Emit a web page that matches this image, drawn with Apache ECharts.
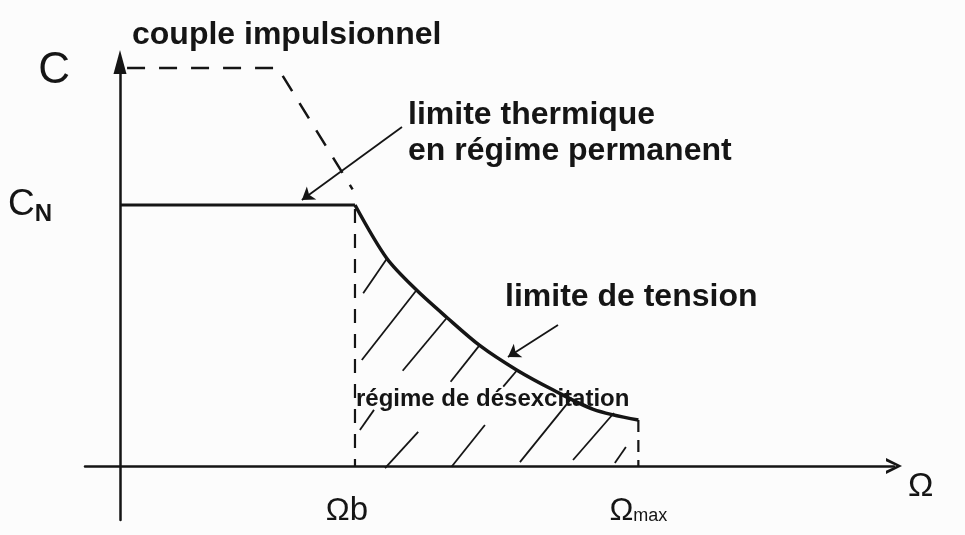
<!DOCTYPE html>
<html>
<head>
<meta charset="utf-8">
<script src="https://cdn.jsdelivr.net/npm/echarts@6/dist/echarts.min.js"></script>
<style>
html, body { margin: 0; padding: 0; background: #fcfcfc; }
#main { width: 965px; height: 535px; }
</style>
</head>
<body>
<div id="main"></div>
<script>
// unités : Ω / Ωb en abscisse, C / CN en ordonnée
var omegaB = 1, omegaMax = 2.206, cN = 1, cImp = 1.525;

// limite thermique en régime permanent
var thermData = [[0, cN], [omegaB, cN]];
// limite de tension
var tensionData = [[1.0, 1.0], [1.135, 0.796], [1.262, 0.674], [1.390, 0.570], [1.532, 0.461],
    [1.688, 0.368], [1.844, 0.291], [2.014, 0.217], [2.206, 0.176]];
// couple impulsionnel (pointillés)
var impulsData = [[0.03, cImp], [0.672, cImp], [0.99, 1.06]];
var dashB = [[omegaB, 0.985], [omegaB, 0]];
var dashMax = [[omegaMax, 0.176], [omegaMax, 0]];

// hachures de la zone de désexcitation
var hatchData = [
    [[1.035, 0.662], [1.137, 0.796]],
    [[1.029, 0.406], [1.265, 0.677]],
    [[1.203, 0.365], [1.393, 0.570]],
    [[1.407, 0.323], [1.528, 0.460]],
    [[1.631, 0.304], [1.688, 0.365]],
    [[1.702, 0.015], [1.923, 0.261]],
    [[1.928, 0.023], [2.102, 0.203]],
    [[2.106, 0.011], [2.153, 0.073]],
    [[1.128, -0.008], [1.269, 0.131]],
    [[1.411, -0.003], [1.553, 0.157]],
    [[1.021, 0.138], [1.081, 0.215]]
];
// flèches des annotations
var arrowData = [
    [[1.2, 1.299], [0.774, 1.019]],
    [[1.864, 0.540], [1.651, 0.418]]
];

var xTicks = [omegaB, omegaMax];
var xTickLabels = ['{om|Ω}{sb|b}{gap|}', '{om|Ω}{sm|max}'];
var yTicks = [cN, cImp];
var yTickLabels = ['{cn|C}{sub|N}{gap|}', '{c|C}'];

var ink = '#151515';
var hand = '"Liberation Sans", sans-serif';
var bold = 'bold 32px "Liberation Sans", Arial, sans-serif';

function pick(ticks, labels, v) {
    for (var i = 0; i < ticks.length; i++) {
        if (Math.abs(ticks[i] - v) < 1e-6) return labels[i];
    }
    return '';
}

var chart = echarts.init(document.getElementById('main'));
chart.setOption({
    backgroundColor: '#fcfcfc',
    animation: false,
    grid: { left: 85, right: 71, top: 62, bottom: 15, containLabel: false, outerBoundsMode: 'none' },
    xAxis: {
        type: 'value',
        min: -0.149,
        max: 3.294,
        name: 'Ω',
        nameLocation: 'end',
        nameGap: 14,
        nameTextStyle: { color: ink, fontSize: 34, fontFamily: hand, align: 'left', verticalAlign: 'top', padding: [4, 0, 0, 0] },
        splitLine: { show: false },
        axisTick: { show: false },
        axisLine: {
            onZero: true,
            lineStyle: { color: ink, width: 2.5 },
            symbol: ['none', 'path://M0,20 L10,0 L20,20 L16,20 L10,7 L4,20 Z'],
            symbolSize: [18, 16]
        },
        axisLabel: {
            customValues: xTicks,
            margin: -25,
            formatter: function (v) { return pick(xTicks, xTickLabels, v); },
            rich: {
                om: { fontSize: 32, fontFamily: hand, color: ink, lineHeight: 32 },
                sb: { fontSize: 33, fontFamily: hand, color: ink, lineHeight: 32 },
                sm: { fontSize: 18, fontFamily: hand, color: ink, lineHeight: 32, padding: [10, 0, 0, 0] },
                gap: { width: 16 }
            }
        }
    },
    yAxis: {
        type: 'value',
        min: -0.207,
        max: 1.548,
        splitLine: { show: false },
        axisTick: { show: false },
        axisLine: {
            onZero: true,
            lineStyle: { color: ink, width: 2.5 },
            symbol: ['none', 'triangle'],
            symbolSize: [13, 24]
        },
        axisLabel: {
            customValues: yTicks,
            margin: 15,
            formatter: function (v) { return pick(yTicks, yTickLabels, v); },
            rich: {
                c: { fontSize: 44, fontFamily: hand, color: ink, padding: [6, 0, 0, 0] },
                cn: { fontSize: 37, fontFamily: hand, color: ink },
                sub: { fontSize: 24, fontFamily: hand, color: ink, fontWeight: 'bold', padding: [18, 0, 0, 0] },
                gap: { width: 18 }
            }
        }
    },
    series: [
        {
            type: 'line', data: thermData, symbol: 'none',
            lineStyle: { color: ink, width: 3 }
        },
        {
            type: 'line', data: tensionData, symbol: 'none', smooth: 0.3,
            lineStyle: { color: ink, width: 3.5 }
        },
        {
            type: 'line', data: impulsData, symbol: 'none',
            lineStyle: { color: ink, width: 2.5, type: [18, 14] }
        },
        {
            type: 'line', data: dashB, symbol: 'none',
            lineStyle: { color: ink, width: 2.2, type: [14, 11] }
        },
        {
            type: 'line', data: dashMax, symbol: 'none',
            lineStyle: { color: ink, width: 2.2, type: [12, 8] }
        },
        {
            type: 'lines', coordinateSystem: 'cartesian2d',
            data: hatchData.map(function (c) { return { coords: c }; }),
            lineStyle: { color: ink, width: 1.8, opacity: 1 }
        },
        {
            type: 'lines', coordinateSystem: 'cartesian2d',
            symbol: ['none', 'arrow'], symbolSize: 12,
            data: arrowData.map(function (c) { return { coords: c }; }),
            lineStyle: { color: ink, width: 1.8, opacity: 1 }
        }
    ],
    graphic: [
        { type: 'text', x: 132, y: 35, style: { text: 'couple impulsionnel', font: bold, fill: ink, align: 'left', verticalAlign: 'middle' } },
        { type: 'text', x: 408, y: 115, style: { text: 'limite thermique', font: bold, fill: ink, align: 'left', verticalAlign: 'middle' } },
        { type: 'text', x: 408, y: 151, style: { text: 'en régime permanent', font: bold, fill: ink, align: 'left', verticalAlign: 'middle' } },
        { type: 'text', x: 505, y: 297, style: { text: 'limite de tension', font: bold, fill: ink, align: 'left', verticalAlign: 'middle' } },
        { type: 'text', x: 356, y: 399, style: { text: 'régime de désexcitation', font: 'bold 24px "Liberation Sans", Arial, sans-serif', fill: ink, align: 'left', verticalAlign: 'middle' } }
    ]
});
</script>
</body>
</html>
